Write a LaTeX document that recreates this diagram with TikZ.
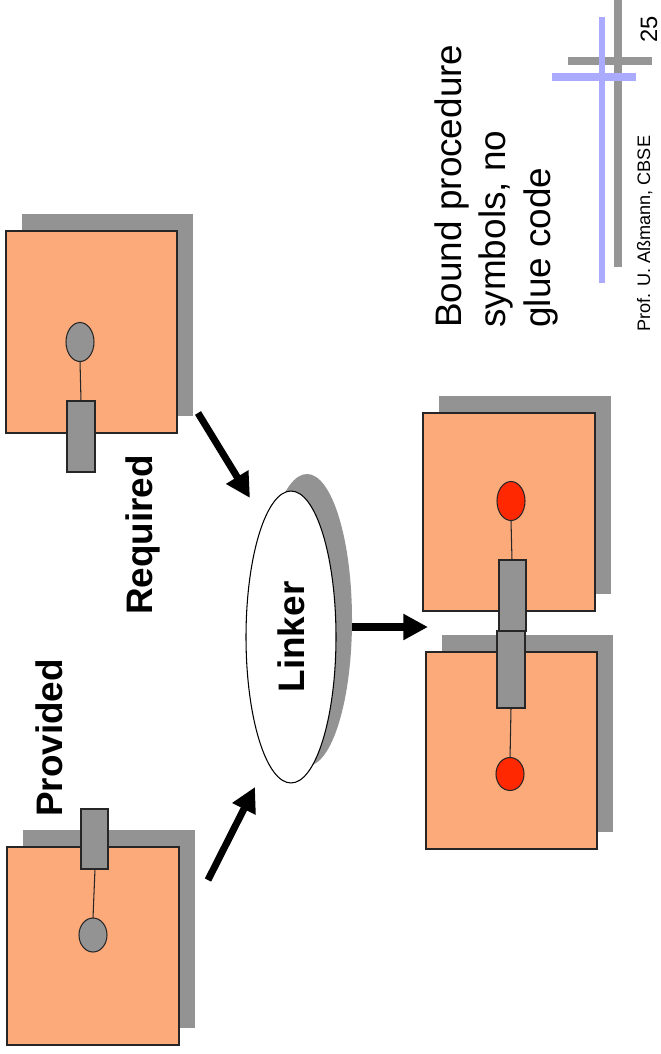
\documentclass[tikz,border=0pt]{standalone}
\usepackage{fontspec}
\setmainfont{Liberation Sans}
\usepackage{xcolor}
\usepackage{tikz}
\usetikzlibrary{shapes,arrows,positioning,calc,arrows.meta}

\definecolor{comporange}{RGB}{252,170,122}
\definecolor{shadowgray}{RGB}{147,147,147}
\definecolor{boundred}{RGB}{255,40,0}
\definecolor{logoblue}{RGB}{170,170,255}
\definecolor{logogray}{RGB}{150,150,150}

\begin{document}
\begin{tikzpicture}[x=0.02cm, y=-0.02cm,
    comp/.style={draw=black!85, fill=comporange, line width=0.6pt},
    compshadow/.style={fill=shadowgray},
    port/.style={draw=black!85, fill=shadowgray, line width=0.6pt},
    bound/.style={draw=black!85, fill=boundred, line width=0.6pt},
    wire/.style={draw=black!85, line width=0.6pt},
    bigarrow/.style={line width=4pt, -{Triangle[length=14pt,width=14pt]}},
    bigtext/.style={rotate=90, inner sep=0pt, font=\fontsize{21}{25.5}\selectfont},
    boldtext/.style={rotate=90, inner sep=0pt, font=\fontsize{21}{25.5}\selectfont\bfseries}]
    \useasboundingbox (0,0) rectangle (661,1054);

    % Required component
    \fill[compshadow] (22,214) rectangle (193,416);
    \draw[comp] (6,231) rectangle (177,433);
    \draw[wire] (80,361) -- (81,401);
    \draw[port] (80,342) ellipse (14 and 19.5);
    \draw[port] (67,401) rectangle (95,472);
    \node[boldtext, anchor=base] (required) at (152,535) {Required};

    % Provided component
    \fill[compshadow] (23,830) rectangle (195,1028);
    \draw[comp] (7,847) rectangle (179,1045);
    \draw[wire] (95,869) -- (93,918);
    \draw[port] (93,935) ellipse (14 and 17);
    \draw[port] (81,809) rectangle (108,869);
    \node[boldtext, anchor=base] (provided) at (62,738) {Provided};

    % Linker
    \fill[shadowgray] (307,620) ellipse (45 and 146);
    \node[draw, ellipse, fill=white, line width=0.6pt, boldtext, minimum width=5.84cm, minimum height=1.8cm] (linker) at (291,637) {Linker};

    \coordinate (req-out) at (198,413);
    \coordinate (link-in1) at (250,498);
    \coordinate (prov-out) at (208,880);
    \coordinate (link-in2) at (255,787);
    \coordinate (link-out) at (352,627);
    \coordinate (bound-in) at (428,627);
    \draw[bigarrow] (req-out) -- (link-in1);
    \draw[bigarrow] (prov-out) -- (link-in2);
    \draw[bigarrow] (link-out) -- (bound-in);

    % Bound components
    \fill[compshadow] (439,396) rectangle (611,594);
    \draw[comp] (423,413) rectangle (595,611);
    \fill[compshadow] (442,635) rectangle (613,832);
    \draw[comp] (426,652) rectangle (597,849);
    \draw[wire] (511,521) -- (512,560);
    \draw[wire] (511,708) -- (510,760);
    \draw[bound] (511,501) ellipse (14 and 19.5);
    \draw[bound] (510,774) ellipse (14 and 16.5);
    \draw[port] (499,560) rectangle (526,631);
    \draw[port] (497,631) rectangle (525,708);

    % Note
    \node[bigtext, align=left, anchor=north west] (note) at (434,328) {Bound procedure\\symbols, no\\glue code};
    \node[rotate=90, inner sep=0pt, anchor=base west, font=\fontsize{10.3}{12}\selectfont] (author) at (650,332) {Prof. U. Aßmann, CBSE};
    \node[rotate=90, inner sep=0pt, anchor=base west, font=\fontsize{13.5}{16}\selectfont] (page) at (657,43) {25};

    % Logo
    \draw[logogray, line width=4pt] (618,0) -- (618,267);
    \draw[logogray, line width=4pt] (568,61) -- (652,61);
    \draw[logoblue, line width=3.5pt] (602,17) -- (602,283);
    \draw[logoblue, line width=4pt] (552,77) -- (636,77);
\end{tikzpicture}
\end{document}
